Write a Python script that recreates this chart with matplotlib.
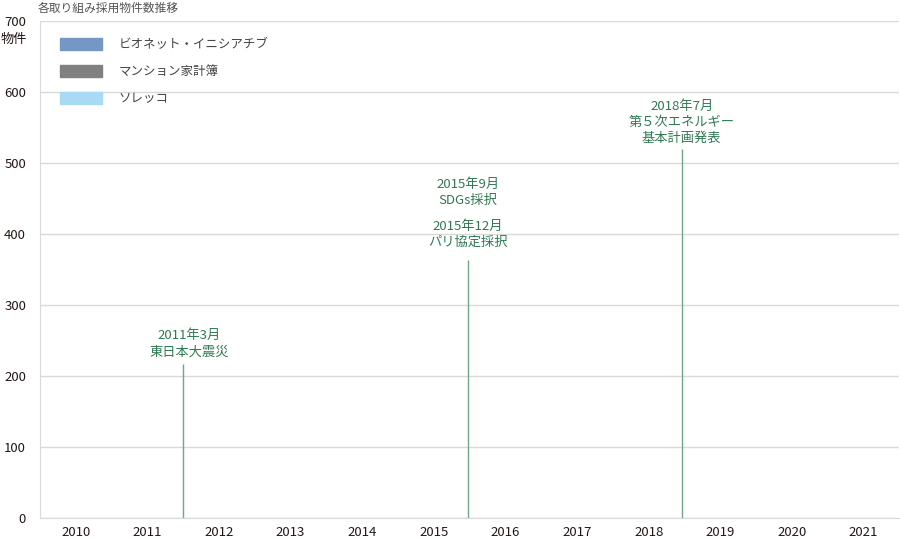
import matplotlib.pyplot as plt
import matplotlib.patches as mpatches
import numpy as np

plt.rcParams['font.family'] = ['Noto Sans CJK JP', 'DejaVu Sans']

# Data
years = ['2010', '2011', '2012', '2013', '2014', '2015',
         '2016', '2017', '2018', '2019', '2020', '2021']
series_names = ['ビオネット・イニシアチブ', 'マンション家計簿', 'ソレッコ']
series_colors = ['#7597c6', '#808080', '#a8d9f5']
bionet = [0] * 12
mansion = [0] * 12
solekko = [0] * 12

# event markers (position in category units, height in 物件)
event_pos = [1.5, 5.47, 8.46]
event_height = [217, 363, 520]
event_labels = [['2011年3月\n東日本大震災'],
                ['2015年9月\nSDGs採択', '2015年12月\nパリ協定採択'],
                ['2018年7月\n第５次エネルギー\n基本計画発表']]

green_text = '#2f7a52'
green_line = '#6aa886'

fig = plt.figure(figsize=(9, 5.39), dpi=100)
ax = fig.add_axes([0.0444, 0.039, 0.955, 0.922])

x = np.arange(len(years))
w = 0.25
for k, (vals, c) in enumerate(zip([bionet, mansion, solekko], series_colors)):
    ax.bar(x + (k - 1) * w, vals, w, color=c)

for p, h in zip(event_pos, event_height):
    ax.vlines(p, 0, h, color=green_line, lw=1)

# labels above event lines
kw = dict(ha='center', va='bottom', color=green_text, fontsize=9.5, linespacing=1.3)
ax.text(event_pos[0] + 0.08, event_height[0] + 8, event_labels[0][0], **kw)
ax.text(event_pos[1], event_height[1] + 16, event_labels[1][1], **kw)
ax.text(event_pos[1], event_height[1] + 75, event_labels[1][0], **kw)
ax.text(event_pos[2], event_height[2] + 6, event_labels[2][0], **kw)

ax.set_xlim(-0.5, 11.5)
ax.set_ylim(0, 700)
ax.set_yticks(np.arange(0, 701, 100))
ax.set_xticks(x)
ax.set_xticklabels(years)
ax.grid(axis='y', color='#d9d9d9', lw=1)
ax.set_axisbelow(True)
for s in ['top', 'right']:
    ax.spines[s].set_visible(False)
for s in ['left', 'bottom']:
    ax.spines[s].set_color('#d9d9d9')
ax.tick_params(length=0, labelsize=9.5, labelcolor='#231815')
ax.tick_params(axis='y', pad=10)
ax.tick_params(axis='x', pad=6)
ax.set_yticklabels(['0', '100', '200', '300', '400', '500', '600', '700'])

handles = [mpatches.Patch(color=c, label=n) for n, c in zip(series_names, series_colors)]
ax.legend(handles=handles, loc='upper left', bbox_to_anchor=(0.01, 0.989), frameon=False,
          fontsize=9, handlelength=3.4, handleheight=1.1, handletextpad=1.3,
          labelspacing=1.12, labelcolor='#444444')

fig.text(0.042, 0.997, '各取り組み採用物件数推移', fontsize=8.5, color='#555555', va='top')
fig.text(0.001, 0.926, '物件', fontsize=9.5, color='#231815', va='center')

fig.savefig('out.png', dpi=100)
